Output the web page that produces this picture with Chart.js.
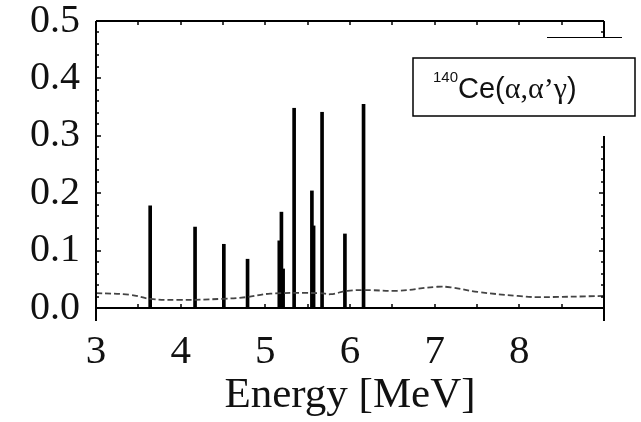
<!DOCTYPE html>
<html>
<head>
<meta charset="utf-8">
<script src="https://cdn.jsdelivr.net/npm/chart.js@4/dist/chart.umd.min.js"></script>
<style>
  html, body { margin: 0; padding: 0; background: #fff; }
  #wrap { width: 641px; height: 422px; }
</style>
</head>
<body>
<div id="wrap"><canvas id="spectrumChart" width="641" height="422"></canvas></div>
<script>
'use strict';
// gamma lines, energy in MeV and intensity
var peakEnergy = [3.64, 4.17, 4.51, 4.79, 5.165, 5.19, 5.21, 5.34, 5.55, 5.57, 5.67, 5.94, 6.16];
var peakIntensity = [0.178, 0.141, 0.111, 0.085, 0.117, 0.167, 0.068, 0.348, 0.204, 0.143, 0.341, 0.129, 0.355];

// dashed background curve
var bgEnergy = [3.0, 3.4, 3.64, 3.96, 4.5, 4.78, 5.06, 5.65, 5.77, 5.97, 6.24, 6.56, 7.03, 7.19, 7.51, 7.98, 8.22, 9.0];
var bgValue = [0.026, 0.023, 0.016, 0.014, 0.016, 0.019, 0.025, 0.026, 0.024, 0.030, 0.031, 0.030, 0.037, 0.036, 0.028, 0.021, 0.019, 0.021];

var xTicks = [3, 4, 5, 6, 7, 8];
var yTicks = [0.0, 0.1, 0.2, 0.3, 0.4, 0.5];

(function spectrum () {
    var peaks = peakEnergy.map(function (e, i) { return { x: e, y: peakIntensity[i] }; });
    var background = bgEnergy.map(function (e, i) { return { x: e, y: bgValue[i] }; });

    // frame, inner ticks and the reaction label
    var framePlugin = {
        id: 'frame',
        afterDraw: function (chart) {
            var c = chart.ctx;
            var xs = chart.scales.x;
            var ys = chart.scales.y;
            var L = xs.getPixelForValue(3);
            var R = xs.getPixelForValue(9);
            var T = ys.getPixelForValue(0.5);
            var B = ys.getPixelForValue(0);
            var v;

            c.save();
            c.strokeStyle = '#000';
            c.lineWidth = 2;
            c.beginPath();
            c.moveTo(L, T); c.lineTo(R, T);
            c.moveTo(L, T); c.lineTo(L, B + 13);
            c.moveTo(L, B); c.lineTo(R, B);
            c.moveTo(R, T); c.lineTo(R, 38);
            c.moveTo(R, 136); c.lineTo(R, B + 13);
            c.stroke();

            c.lineWidth = 1.5;
            c.beginPath();
            for (v = 3.5; v < 9; v += 0.5) {
                var px = Math.round(xs.getPixelForValue(v));
                c.moveTo(px, B); c.lineTo(px, B - 4);
                c.moveTo(px, T); c.lineTo(px, T + 4);
            }
            for (var k = 1; k < 25; k++) {
                v = k * 0.02;
                var py = Math.round(ys.getPixelForValue(v));
                var len = (k % 5 === 0) ? 5 : 3;
                c.moveTo(L, py); c.lineTo(L + len, py);
                if (py > 136 || py < 38) {
                    c.moveTo(R, py); c.lineTo(R - len, py);
                }
            }
            c.stroke();

            // stray line at the top right
            c.lineWidth = 1;
            c.beginPath();
            c.moveTo(547, 37.5); c.lineTo(622, 37.5);
            c.stroke();

            // label box
            c.fillStyle = '#fff';
            c.fillRect(413, 58, 222, 58);
            c.lineWidth = 1.5;
            c.strokeRect(413, 58, 222, 58);

            c.fillStyle = '#111';
            c.textBaseline = 'alphabetic';
            c.textAlign = 'left';
            var x = 433;
            c.font = '15px "Liberation Sans", Arial, sans-serif';
            c.fillText('140', x, 82);
            x += c.measureText('140').width;
            c.font = '29px "Liberation Sans", Arial, sans-serif';
            c.fillText('Ce(', x, 98);
            x += c.measureText('Ce(').width;
            c.font = '30px "Liberation Serif", "Times New Roman", serif';
            c.fillText('\u03b1,\u03b1\u2019\u03b3', x, 98);
            x += c.measureText('\u03b1,\u03b1\u2019\u03b3').width;
            c.font = '29px "Liberation Sans", Arial, sans-serif';
            c.fillText(')', x, 98);
            c.restore();
        }
    };

    var ctx = document.getElementById('spectrumChart').getContext('2d');

    new Chart(ctx, {
        type: 'bar',
        data: {
            datasets: [{
                type: 'bar',
                data: peaks,
                backgroundColor: '#000',
                barThickness: 3,
                order: 2
            }, {
                type: 'line',
                data: background,
                borderColor: '#444',
                borderWidth: 1.8,
                borderDash: [6, 3],
                pointRadius: 0,
                tension: 0.4,
                fill: false,
                order: 1
            }]
        },
        options: {
            responsive: false,
            animation: false,
            layout: { padding: { top: 21, right: 37, left: 0, bottom: 0 } },
            plugins: {
                legend: { display: false },
                tooltip: { enabled: false }
            },
            scales: {
                x: {
                    type: 'linear',
                    min: 3,
                    max: 9,
                    offset: false,
                    grid: { display: false, drawTicks: false },
                    border: { display: false },
                    afterBuildTicks: function (scale) {
                        scale.ticks = xTicks.map(function (t) { return { value: t }; });
                    },
                    afterFit: function (scale) {
                        scale.height = 114;
                        scale.paddingLeft = 0;
                        scale.paddingRight = 0;
                    },
                    ticks: {
                        color: '#111',
                        padding: 20,
                        maxRotation: 0,
                        font: { family: '"Liberation Serif", "Times New Roman", serif', size: 41 }
                    },
                    title: {
                        display: true,
                        text: 'Energy [MeV]',
                        color: '#111',
                        padding: { top: 0, bottom: 0 },
                        font: { family: '"Liberation Serif", "Times New Roman", serif', size: 43 }
                    }
                },
                y: {
                    min: 0,
                    max: 0.5,
                    grid: { display: false, drawTicks: false },
                    border: { display: false },
                    afterBuildTicks: function (scale) {
                        scale.ticks = yTicks.map(function (t) { return { value: t }; });
                    },
                    afterFit: function (scale) {
                        scale.width = 96;
                        scale.paddingTop = 0;
                        scale.paddingBottom = 0;
                    },
                    ticks: {
                        color: '#111',
                        padding: 16,
                        callback: function (v) { return Number(v).toFixed(1); },
                        font: { family: '"Liberation Serif", "Times New Roman", serif', size: 40 }
                    }
                }
            }
        },
        plugins: [framePlugin]
    });
}());
</script>
</body>
</html>
